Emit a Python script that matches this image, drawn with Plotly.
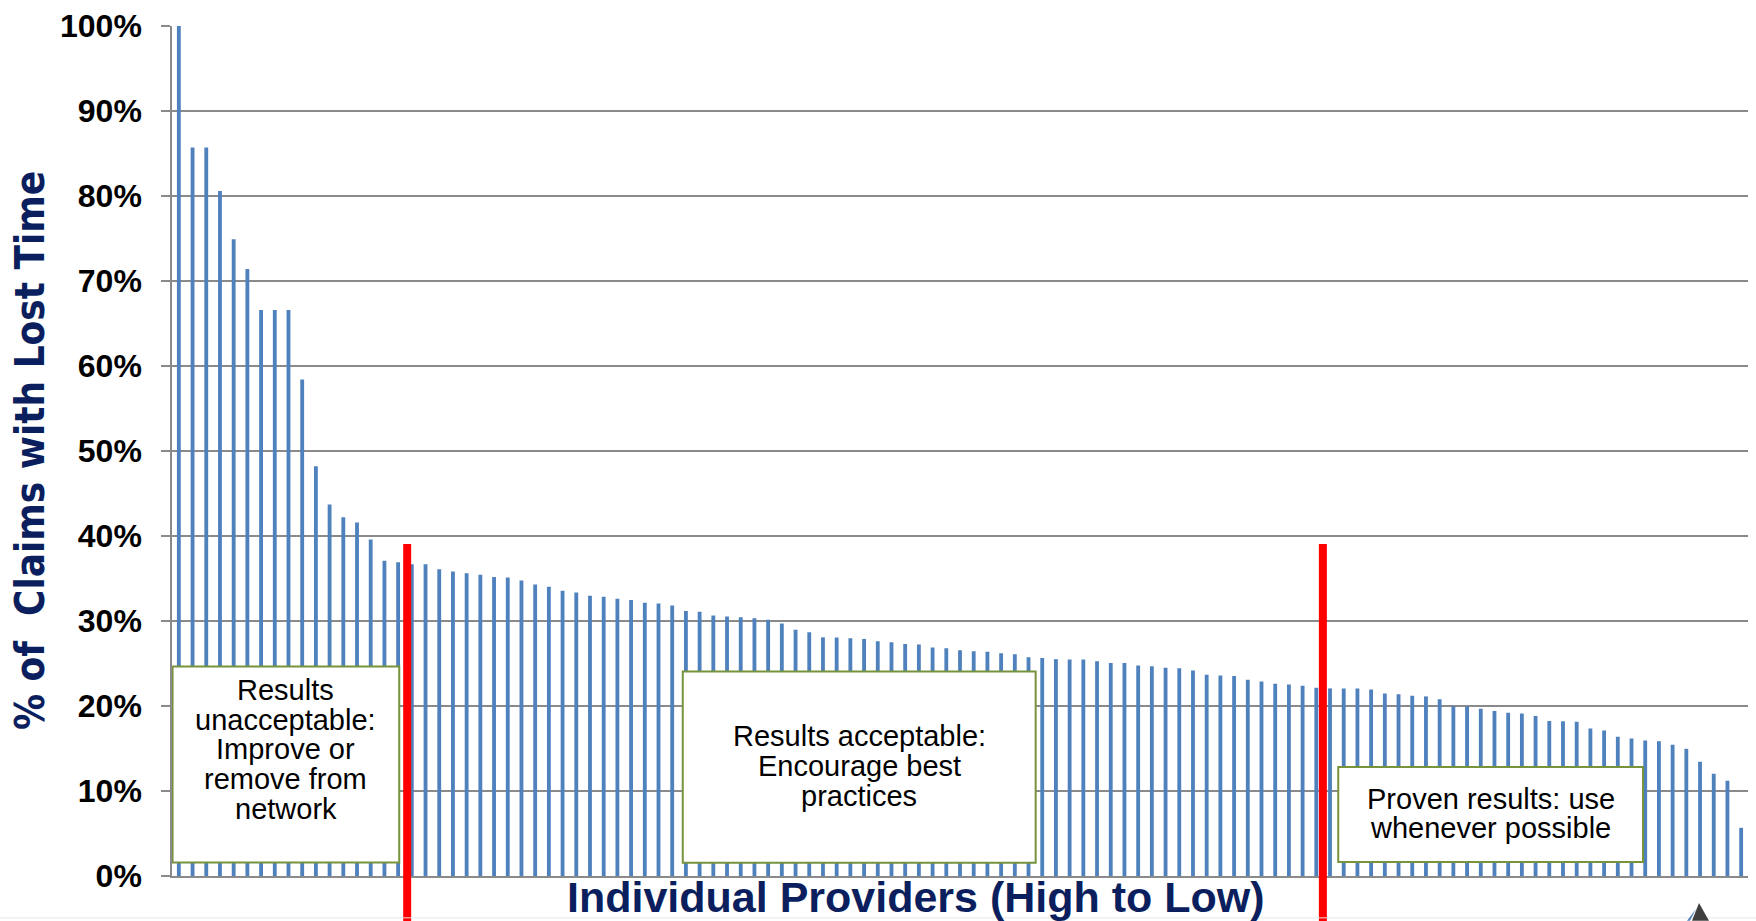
import plotly.graph_objects as go

# Share of claims with lost time per provider, sorted high to low (percent)
lost_time_pct = [
    100.0, 85.7, 85.7, 80.6, 74.9, 71.4, 66.6, 66.6, 66.6, 58.4,
    48.2, 43.7, 42.2, 41.6, 39.6, 37.1, 36.9,
    36.67, 36.67, 36.09, 35.82, 35.62, 35.43, 35.19, 35.11, 34.76, 34.29,
    34.02, 33.55, 33.36, 32.97, 32.85, 32.62, 32.46, 32.15, 32.07, 31.83,
    31.17, 31.09, 30.66, 30.54, 30.43, 30.31, 30.16, 29.72, 28.98,
    28.67, 28.08, 28.05, 27.97, 27.89, 27.62, 27.50, 27.30, 27.23, 26.88,
    26.80, 26.56, 26.44, 26.37, 26.21, 26.09, 25.74, 25.66, 25.51, 25.47,
    25.47, 25.27, 25.07, 25.07, 24.77, 24.69, 24.49, 24.43,
    24.18, 23.67, 23.60, 23.52, 23.09, 22.89, 22.62, 22.54, 22.38, 22.15,
    22.07, 22.07, 22.07, 21.95, 21.48, 21.37, 21.21, 21.13, 20.78, 19.96,
    19.96, 19.69, 19.41, 19.20, 19.12, 18.83, 18.24,
    18.20, 18.16, 17.34, 17.11, 16.37, 16.17, 15.94, 15.86, 15.43, 14.96,
    13.44, 12.03, 11.21, 5.67,
]
providers = list(range(len(lost_time_pct)))

# Tier cut-offs: positions between providers where the red dividers sit
cutoffs = [16.66, 83.48]

y_ticks = [i / 10 for i in range(11)]
y_tick_text = [f"{i * 10}%" for i in range(11)]

# Text boxes: (x range in provider index, y range as fraction, lines)
tier_boxes = [
    ((-0.46, 16.08), (0.016, 0.2466),
     ["Results", "unacceptable:", "Improve or", "remove from", "network"]),
    ((36.77, 62.52), (0.0156, 0.2407),
     ["Results acceptable:", "Encourage best", "practices"]),
    ((84.6, 106.84), (0.0164, 0.1281),
     ["Proven results: use", "whenever possible"]),
]
# First-line centre (px from top) and line pitch for each box
box_text_layout = [(689.3, 29.75), (736.0, 29.65), (798.6, 29.0)]

W, H = 1756, 921
ML, MR, MT, MB = 172, 8, 23, 45
PW, PH = W - ML - MR, H - MT - MB
X_MIN, X_MAX = -0.5, len(lost_time_pct) - 0.5


def px_to_paper_y(py):
    return (H - MB - py) / PH


def px_to_paper_x(px):
    return (px - ML) / PW


def idx_to_paper_x(i):
    return (i - X_MIN) / (X_MAX - X_MIN)


NAVY = "#0B1F5E"
GRID = "#8A8A8A"
BAR = "#4F81BD"
GREEN = "#77933C"
FONT = "Liberation Sans, Arial, sans-serif"

fig = go.Figure()
fig.add_trace(go.Bar(
    x=providers,
    y=[v / 100 for v in lost_time_pct],
    marker=dict(color=BAR, line=dict(width=0)),
    hoverinfo="skip",
))

shapes = []
for c in cutoffs:
    xp = idx_to_paper_x(c)
    shapes.append(dict(
        type="line", xref="paper", yref="paper",
        x0=xp, x1=xp, y0=px_to_paper_y(H + 2), y1=0.3907,
        line=dict(color="#FF0000", width=8), layer="above",
    ))

annotations = []
for (bx, by, lines), (first_c, pitch) in zip(tier_boxes, box_text_layout):
    shapes.append(dict(
        type="rect", xref="x", yref="y",
        x0=bx[0], x1=bx[1], y0=by[0], y1=by[1],
        fillcolor="white", line=dict(color=GREEN, width=2), layer="above",
    ))
    cx = (bx[0] + bx[1]) / 2
    for k, line in enumerate(lines):
        annotations.append(dict(
            text=line, xref="x", yref="paper",
            x=cx, y=px_to_paper_y(first_c + k * pitch),
            xanchor="center", yanchor="middle", showarrow=False,
            font=dict(family=FONT, size=29, color="black"),
        ))

# Slide edge along the bottom
shapes.append(dict(
    type="line", xref="paper", yref="paper",
    x0=px_to_paper_x(0), x1=px_to_paper_x(W), y0=px_to_paper_y(918), y1=px_to_paper_y(918),
    line=dict(color="#E8E8E8", width=1),
))
# Corner logo (sail)
def sail_path(pts):
    return "M " + " L ".join(f"{px_to_paper_x(x)},{px_to_paper_y(y)}" for x, y in pts) + " Z"

shapes.append(dict(type="path", xref="paper", yref="paper",
                   path=sail_path([(1699, 903), (1692, 921), (1709, 921)]),
                   fillcolor="#3F3F3F", line=dict(width=0)))
shapes.append(dict(type="path", xref="paper", yref="paper",
                   path=sail_path([(1696, 909), (1687, 921), (1690, 921)]),
                   fillcolor="#4F81BD", line=dict(width=0)))

annotations.append(dict(
    text="<b>Individual Providers (High to Low)</b>",
    xref="paper", yref="paper", x=px_to_paper_x(916), y=px_to_paper_y(897),
    xanchor="center", yanchor="middle", showarrow=False,
    font=dict(family=FONT, size=43, color=NAVY),
))
annotations.append(dict(
    text="<b>% of  Claims with Lost Time</b>",
    xref="paper", yref="paper", x=px_to_paper_x(30), y=0.5,
    xanchor="center", yanchor="middle", showarrow=False, textangle=-90,
    font=dict(family="Liberation Sans Narrow, DejaVu Sans Condensed, Arial Narrow, sans-serif",
              size=40, color=NAVY),
))

fig.update_layout(
    width=W, height=H,
    margin=dict(l=ML, r=MR, t=MT, b=MB, pad=0),
    paper_bgcolor="white", plot_bgcolor="white",
    bargap=0.72,
    showlegend=False,
    shapes=shapes,
    annotations=annotations,
)
fig.update_xaxes(
    range=[X_MIN, X_MAX], showticklabels=False, showgrid=False, zeroline=False,
    showline=True, linecolor=GRID, linewidth=1.5, ticks="",
)
fig.update_yaxes(
    range=[0, 1], tickvals=y_ticks, ticktext=y_tick_text,
    showgrid=True, gridcolor=GRID, gridwidth=1.5, zeroline=False,
    showline=True, linecolor=GRID, linewidth=1.5,
    ticks="outside", ticklen=9, tickcolor=GRID, tickwidth=1.5,
    ticklabelstandoff=13,
    tickfont=dict(family=FONT, size=32, color="black", weight="bold"),
)

fig.write_html("out.html", config={"displayModeBar": False})
